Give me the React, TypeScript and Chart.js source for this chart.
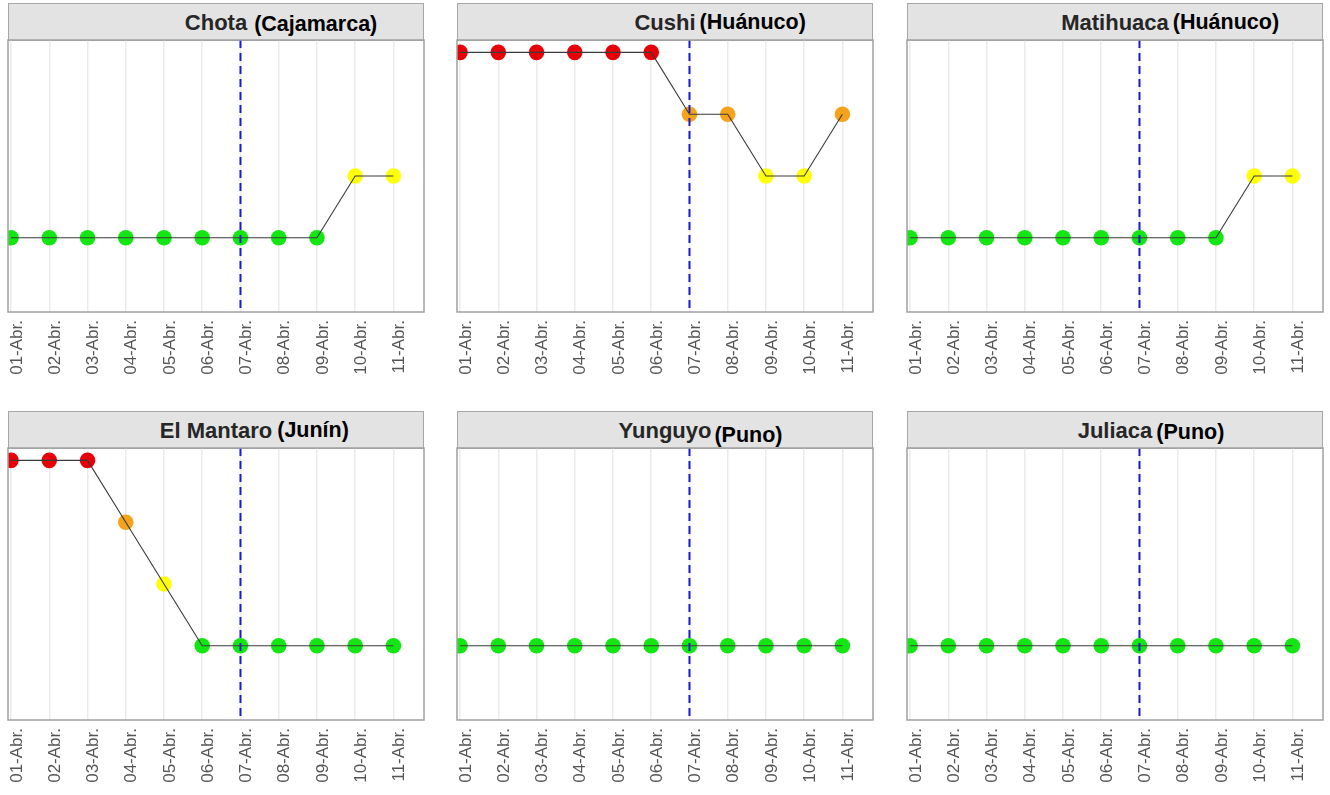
import React, { useEffect, useRef } from "react";
import { Chart, registerables } from "chart.js";

Chart.register(...registerables);

// ---- data ----
const dates = ["01-Abr.", "02-Abr.", "03-Abr.", "04-Abr.", "05-Abr.", "06-Abr.", "07-Abr.", "08-Abr.", "09-Abr.", "10-Abr.", "11-Abr."];
const stationNames = ["Chota", "Cushi", "Matihuaca", "El Mantaro", "Yunguyo", "Juliaca"];
const regionNames = ["(Cajamarca)", "(Huánuco)", "(Huánuco)", "(Junín)", "(Puno)", "(Puno)"];
const chotaLevels = [1, 1, 1, 1, 1, 1, 1, 1, 1, 2, 2];
const cushiLevels = [4, 4, 4, 4, 4, 4, 3, 3, 2, 2, 3];
const matihuacaLevels = [1, 1, 1, 1, 1, 1, 1, 1, 1, 2, 2];
const mantaroLevels = [4, 4, 4, 3, 2, 1, 1, 1, 1, 1, 1];
const yunguyoLevels = [1, 1, 1, 1, 1, 1, 1, 1, 1, 1, 1];
const juliacaLevels = [1, 1, 1, 1, 1, 1, 1, 1, 1, 1, 1];
const markerDate = "07-Abr.";

const seriesLevels = [chotaLevels, cushiLevels, matihuacaLevels, mantaroLevels, yunguyoLevels, juliacaLevels];

// ---- styles ----
const levelColors: Record<number, string> = { 1: "#14e614", 2: "#ffff0a", 3: "#f5a21c", 4: "#e80008" };
const colX = [8, 457, 907];
const rowStripTop = [3, 411];
const STRIP_H = 37;
const PLOT_W = 416;
const PLOT_H = 272;
const AXIS_H = 75;
const PAD = 4;
const regionGap = [7, 4, 4, 5, 3, 4];
const regionDy = [1, -1, -1, -1, 4, 1];

const decorPlugin = {
  id: "panelDecor",
  afterDatasetsDraw(chart: any, _args: any, opts: any) {
    const { ctx, chartArea: a, scales } = chart;
    const px = scales.x.getPixelForValue(opts.markerIndex);
    ctx.save();
    ctx.beginPath();
    ctx.rect(a.left, a.top, a.right - a.left, a.bottom - a.top);
    ctx.clip();
    ctx.strokeStyle = "#1a1ad0";
    ctx.lineWidth = 2;
    ctx.setLineDash([8, 5]);
    ctx.beginPath();
    ctx.moveTo(px, a.top);
    ctx.lineTo(px, a.bottom);
    ctx.stroke();
    ctx.restore();
    ctx.save();
    ctx.strokeStyle = "#a0a0a0";
    ctx.lineWidth = 1.5;
    ctx.strokeRect(a.left, a.top, a.right - a.left, a.bottom - a.top);
    ctx.restore();
  },
};

function Panel({ index }: { index: number }) {
  const ref = useRef<HTMLCanvasElement | null>(null);
  const col = index % 3;
  const row = Math.floor(index / 3);
  const left = colX[col];
  const stripTop = rowStripTop[row];
  const plotTop = stripTop + STRIP_H;
  const levels = seriesLevels[index];

  useEffect(() => {
    if (!ref.current) return;
    const pts = levels.map((v, i) => ({ x: i, y: v }));
    const chart = new Chart(ref.current, {
      type: "line",
      data: {
        datasets: [
          {
            data: pts,
            borderColor: "#3a3a3a",
            borderWidth: 1.1,
            pointRadius: 0,
            fill: false,
            tension: 0,
            clip: 0,
            order: 0,
          } as any,
          {
            data: pts,
            showLine: false,
            pointRadius: 7.8,
            pointHoverRadius: 7.8,
            pointBorderWidth: 0,
            pointBackgroundColor: levels.map((v) => levelColors[v]),
            clip: 0,
            order: 1,
          } as any,
        ],
      },
      options: {
        animation: false,
        responsive: false,
        events: [],
        layout: { autoPadding: false, padding: { left: PAD, right: PAD, top: PAD, bottom: 0 } },
        plugins: {
          legend: { display: false },
          tooltip: { enabled: false },
          panelDecor: { markerIndex: dates.indexOf(markerDate) },
        } as any,
        scales: {
          x: {
            type: "linear",
            min: -0.08,
            max: 10.8,
            afterBuildTicks: (scale: any) => {
              scale.ticks = dates.map((_, i) => ({ value: i }));
            },
            afterFit: (scale: any) => {
              scale.height = AXIS_H;
              scale.paddingLeft = 0;
              scale.paddingRight = 0;
            },
            grid: { color: "#ebebeb", lineWidth: 1.5, drawTicks: false },
            border: { display: false },
            ticks: {
              autoSkip: false,
              maxRotation: 90,
              minRotation: 90,
              padding: 8,
              labelOffset: 6,
              color: "#555555",
              font: { family: "'Liberation Sans', Arial, sans-serif", size: 17 },
              callback: (v: any) => dates[v as number] ?? "",
            },
          },
          y: {
            type: "linear",
            display: false,
            min: -0.2,
            max: 4.2,
          },
        },
      },
      plugins: [decorPlugin],
    });
    return () => chart.destroy();
  }, [index]);

  return (
    <>
      <div
        style={{
          position: "absolute",
          left,
          top: stripTop,
          width: PLOT_W,
          height: STRIP_H + 1,
          boxSizing: "border-box",
          background: "#e3e3e3",
          border: "1.5px solid #a6a6a6",
          display: "flex",
          justifyContent: "center",
          alignItems: "center",
        }}
      >
        <span
          style={{
            position: "relative",
            fontWeight: "bold",
            fontSize: 22,
            color: "#262626",
            whiteSpace: "nowrap",
            lineHeight: "25px",
          }}
        >
          {stationNames[index]}
          <span
            style={{
              position: "absolute",
              left: "100%",
              marginLeft: regionGap[index],
              top: 1 + regionDy[index],
              fontSize: 21.5,
              color: "#000",
              whiteSpace: "nowrap",
            }}
          >
            {regionNames[index]}
          </span>
        </span>
      </div>
      <canvas
        ref={ref}
        width={PLOT_W + 2 * PAD}
        height={PAD + PLOT_H + AXIS_H}
        style={{
          position: "absolute",
          left: left - PAD,
          top: plotTop - PAD,
          width: PLOT_W + 2 * PAD,
          height: PAD + PLOT_H + AXIS_H,
        }}
      />
    </>
  );
}

export default function App() {
  return (
    <div
      style={{
        position: "absolute",
        left: 0,
        top: 0,
        width: 1330,
        height: 795,
        background: "#fff",
        fontFamily: "'Liberation Sans', Arial, sans-serif",
        overflow: "hidden",
      }}
    >
      {stationNames.map((_, i) => (
        <Panel key={i} index={i} />
      ))}
    </div>
  );
}
